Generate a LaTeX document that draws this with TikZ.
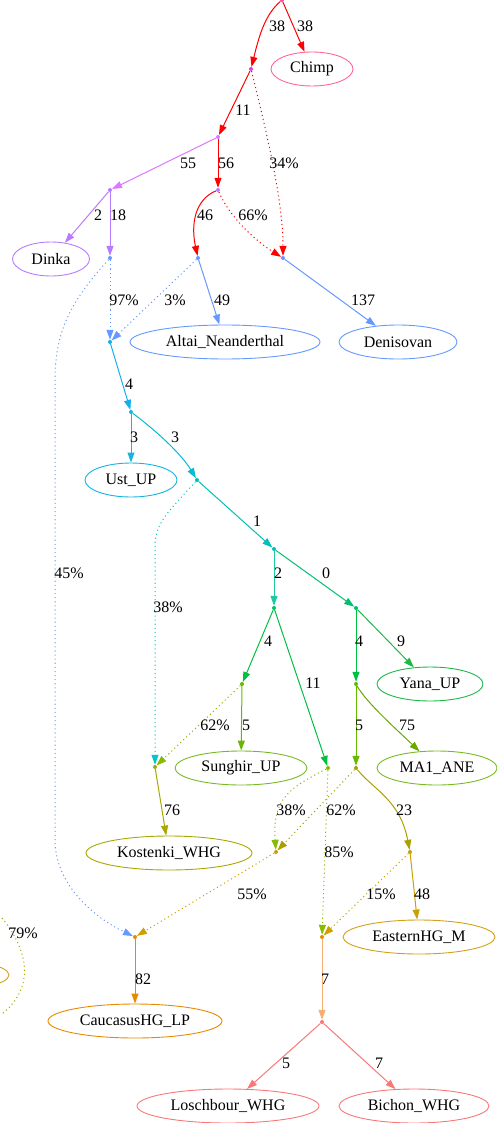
\documentclass[tikz,border=0pt]{standalone}
\usepackage{fontspec}
\setmainfont{Liberation Serif}
\usetikzlibrary{arrows.meta,shapes.geometric}

\definecolor{cRed}{HTML}{FF0000}
\definecolor{cPink}{HTML}{FF6699}
\definecolor{cRoot}{HTML}{FF44AA}
\definecolor{cMag}{HTML}{E040E0}
\definecolor{cViolet}{HTML}{DD77FF}
\definecolor{cPurple}{HTML}{B77BFF}
\definecolor{cBlue}{HTML}{6699FF}
\definecolor{cSky}{HTML}{12AEEE}
\definecolor{cSkyb}{HTML}{16B4E2}
\definecolor{cCyan}{HTML}{00BCD4}
\definecolor{cTeal}{HTML}{00C0B4}
\definecolor{cTealb}{HTML}{00C8C8}
\definecolor{cMint}{HTML}{20C8A0}
\definecolor{cJade}{HTML}{00C070}
\definecolor{cGreen}{HTML}{00C040}
\definecolor{cGreenb}{HTML}{1DB848}
\definecolor{cLime}{HTML}{66B800}
\definecolor{cLimeb}{HTML}{77BB22}
\definecolor{cLimec}{HTML}{66AA00}
\definecolor{cYlg}{HTML}{88BB00}
\definecolor{cOlive}{HTML}{AAA800}
\definecolor{cOliveb}{HTML}{AAA000}
\definecolor{cGold}{HTML}{CCA000}
\definecolor{cGoldb}{HTML}{D4A017}
\definecolor{cOrange}{HTML}{E88A00}
\definecolor{cPeach}{HTML}{F4B070}
\definecolor{cSalmon}{HTML}{F87878}

\tikzset{
  pop/.style={draw=#1, ellipse, line width=0.9pt, inner sep=0pt, minimum height=34pt},
  pt/.style={circle, fill=#1, inner sep=0pt, minimum size=4pt},
  lbl/.style={inner sep=0pt},
  edge/.style={draw=#1, line width=1pt, -{Triangle[length=10pt,width=7pt]}},
  mix/.style={edge=#1, dash pattern=on 1.1pt off 3pt},
}

\begin{document}
\begin{tikzpicture}[x=1pt, y=-1pt, font=\fontsize{16}{18}\selectfont]
\useasboundingbox (0,0) rectangle (496,1123);

% populations
\node[pop=cPink, minimum width=82pt] (Chimp) at (312,69) {Chimp};
\node[pop=cPurple, minimum width=77pt] (Dinka) at (51,259) {Dinka};
\node[pop=cBlue, minimum width=190pt] (Altai) at (225,342) {Altai\_Neanderthal};
\node[pop=cBlue, minimum width=118pt] (Deni) at (398,342) {Denisovan};
\node[pop=cSkyb, minimum width=92pt] (Ust) at (131,480) {Ust\_UP};
\node[pop=cGreenb, minimum width=106pt] (Yana) at (430,684) {Yana\_UP};
\node[pop=cLimeb, minimum width=132pt] (Sunghir) at (241,768) {Sunghir\_UP};
\node[pop=cLimeb, minimum width=120pt] (MA1) at (437,768) {MA1\_ANE};
\node[pop=cOlive, minimum width=166pt] (Kostenki) at (169,853) {Kostenki\_WHG};
\node[pop=cGoldb, minimum width=152pt] (EHG) at (419,937) {EasternHG\_M};
\node[pop=cOrange, minimum width=174pt] (CHG) at (135,1021) {CaucasusHG\_LP};
\node[pop=cSalmon, minimum width=182pt] (Losch) at (228,1106) {Loschbour\_WHG};
\node[pop=cSalmon, minimum width=150pt] (Bichon) at (414,1106) {Bichon\_WHG};
\node[pop=cGoldb, minimum width=158pt] (Offleft) at (-70,975) {};

% inner points
\node[pt=cRoot] (root) at (282,0) {};
\node[pt=cMag] (n1) at (251,69) {};
\node[pt=cViolet] (n2) at (218,137) {};
\node[pt=cPurple] (n3) at (110,190) {};
\node[pt=cPurple] (n4) at (218,190) {};
\node[pt=cBlue] (n5) at (110,258) {};
\node[pt=cBlue] (n6) at (198,258) {};
\node[pt=cBlue] (n7) at (283,258) {};
\node[pt=cSky] (n8) at (110,342) {};
\node[pt=cSkyb] (n9) at (131,412) {};
\node[pt=cTeal] (n10) at (197,480) {};
\node[pt=cTeal] (n11) at (274,549) {};
\node[pt=cJade] (n12) at (274,608) {};
\node[pt=cJade] (n13) at (356,608) {};
\node[pt=cLime] (n14) at (242,684) {};
\node[pt=cLime] (n15) at (356,684) {};
\node[pt=cOlive] (n16) at (155,767) {};
\node[pt=cYlg] (n17) at (328,768) {};
\node[pt=cOliveb] (n18) at (356,768) {};
\node[pt=cGold] (n19) at (276,852) {};
\node[pt=cGold] (n20) at (410,852) {};
\node[pt=cOrange] (n21) at (135,937) {};
\node[pt=cOrange] (n22) at (322,937) {};
\node[pt=cSalmon] (n23) at (322,1022) {};
\coordinate (o1) at (2,918);
\coordinate (o2) at (2,1014);

% tree edges
\path[edge=cRed] (root) .. controls (266,14) and (260,32) .. (n1);
\path[edge=cRed] (root) -- (Chimp);
\path[edge=cRed] (n1) -- (n2);
\path[edge=cViolet] (n2) -- (n3);
\path[edge=cRed] (n2) -- (n4);
\path[edge=cPurple] (n3) -- (Dinka);
\path[edge=cPurple] (n3) -- (n5);
\path[edge=cRed] (n4) .. controls (194,200) and (191,226) .. (n6);
\path[edge=cBlue] (n6) -- (Altai);
\path[edge=cBlue] (n7) -- (Deni);
\path[edge=cSky] (n8) -- (n9);
\path[edge=cSkyb] (n9) -- (Ust);
\path[edge=cCyan] (n9) .. controls (158,432) and (182,455) .. (n10);
\path[edge=cTeal] (n10) -- (n11);
\path[edge=cMint] (n11) -- (n12);
\path[edge=cJade] (n11) -- (n13);
\path[edge=cGreen] (n12) -- (n14);
\path[edge=cGreen] (n12) -- (n17);
\path[edge=cGreen] (n13) -- (n15);
\path[edge=cGreenb] (n13) -- (Yana);
\path[edge=cLime] (n14) -- (Sunghir);
\path[edge=cLime] (n15) -- (n18);
\path[edge=cLimec] (n15) .. controls (366,702) and (395,728) .. (MA1);
\path[edge=cOlive] (n16) -- (Kostenki);
\path[edge=cOliveb] (n18) .. controls (374,790) and (400,800) .. (n20);
\path[edge=cGold] (n20) -- (EHG);
\path[edge=cOrange] (n21) -- (CHG);
\path[edge=cPeach] (n22) -- (n23);
\path[edge=cSalmon] (n23) -- (Losch);
\path[edge=cSalmon] (n23) -- (Bichon);

% admixture edges
\path[mix=cRed] (n1) .. controls (266,130) and (283,200) .. (n7);
\path[mix=cRed] (n4) .. controls (232,222) and (262,245) .. (n7);
\path[mix=cBlue] (n5) -- (n8);
\path[mix=cBlue] (n6) -- (n8);
\path[mix=cBlue] (n5) .. controls (72,300) and (55,330) .. (55,380) -- (55,840) .. controls (55,885) and (95,918) .. (n21);
\path[mix=cTealb] (n10) .. controls (172,508) and (155,522) .. (155,545) -- (n16);
\path[mix=cYlg] (n14) -- (n16);
\path[mix=cYlg] (n17) .. controls (290,788) and (272,798) .. (n19);
\path[mix=cYlg] (n17) -- (n22);
\path[mix=cOliveb] (n18) -- (n19);
\path[mix=cGold] (n19) -- (n21);
\path[mix=cGold] (n20) -- (n22);
\path[draw=cOlive, line width=1pt, dash pattern=on 1.1pt off 3pt] (o1) .. controls (32,955) and (32,990) .. (o2);

% labels
\node[lbl] (l1) at (277,26) {38};
\node[lbl] (l2) at (305,26) {38};
\node[lbl] (l3) at (243,110) {11};
\node[lbl] (l4) at (188,163) {55};
\node[lbl] (l5) at (226,163) {56};
\node[lbl] (l6) at (284,163) {34\%};
\node[lbl] (l7) at (98,215) {2};
\node[lbl] (l8) at (118,215) {18};
\node[lbl] (l9) at (205,215) {46};
\node[lbl] (l10) at (253,215) {66\%};
\node[lbl] (l11) at (124,300) {97\%};
\node[lbl] (l12) at (175,300) {3\%};
\node[lbl] (l13) at (222,300) {49};
\node[lbl] (l14) at (363,300) {137};
\node[lbl] (l15) at (129,384) {4};
\node[lbl] (l16) at (134,437) {3};
\node[lbl] (l17) at (175,437) {3};
\node[lbl] (l18) at (257,521) {1};
\node[lbl] (l19) at (278,573) {2};
\node[lbl] (l20) at (326,573) {0};
\node[lbl] (l21) at (69,573) {45\%};
\node[lbl] (l22) at (168,607) {38\%};
\node[lbl] (l23) at (268,641) {4};
\node[lbl] (l24) at (359,641) {4};
\node[lbl] (l25) at (401,641) {9};
\node[lbl] (l26) at (313,683) {11};
\node[lbl] (l27) at (215,725) {62\%};
\node[lbl] (l28) at (246,725) {5};
\node[lbl] (l29) at (359,725) {5};
\node[lbl] (l30) at (407,725) {75};
\node[lbl] (l31) at (172,810) {76};
\node[lbl] (l32) at (291,810) {38\%};
\node[lbl] (l33) at (341,810) {62\%};
\node[lbl] (l34) at (404,810) {23};
\node[lbl] (l35) at (339,852) {85\%};
\node[lbl] (l36) at (252,894) {55\%};
\node[lbl] (l37) at (381,894) {15\%};
\node[lbl] (l38) at (422,894) {48};
\node[lbl] (l39) at (23,933) {79\%};
\node[lbl] (l40) at (143,979) {82};
\node[lbl] (l41) at (325,979) {7};
\node[lbl] (l42) at (286,1063) {5};
\node[lbl] (l43) at (379,1063) {7};
\end{tikzpicture}
\end{document}
